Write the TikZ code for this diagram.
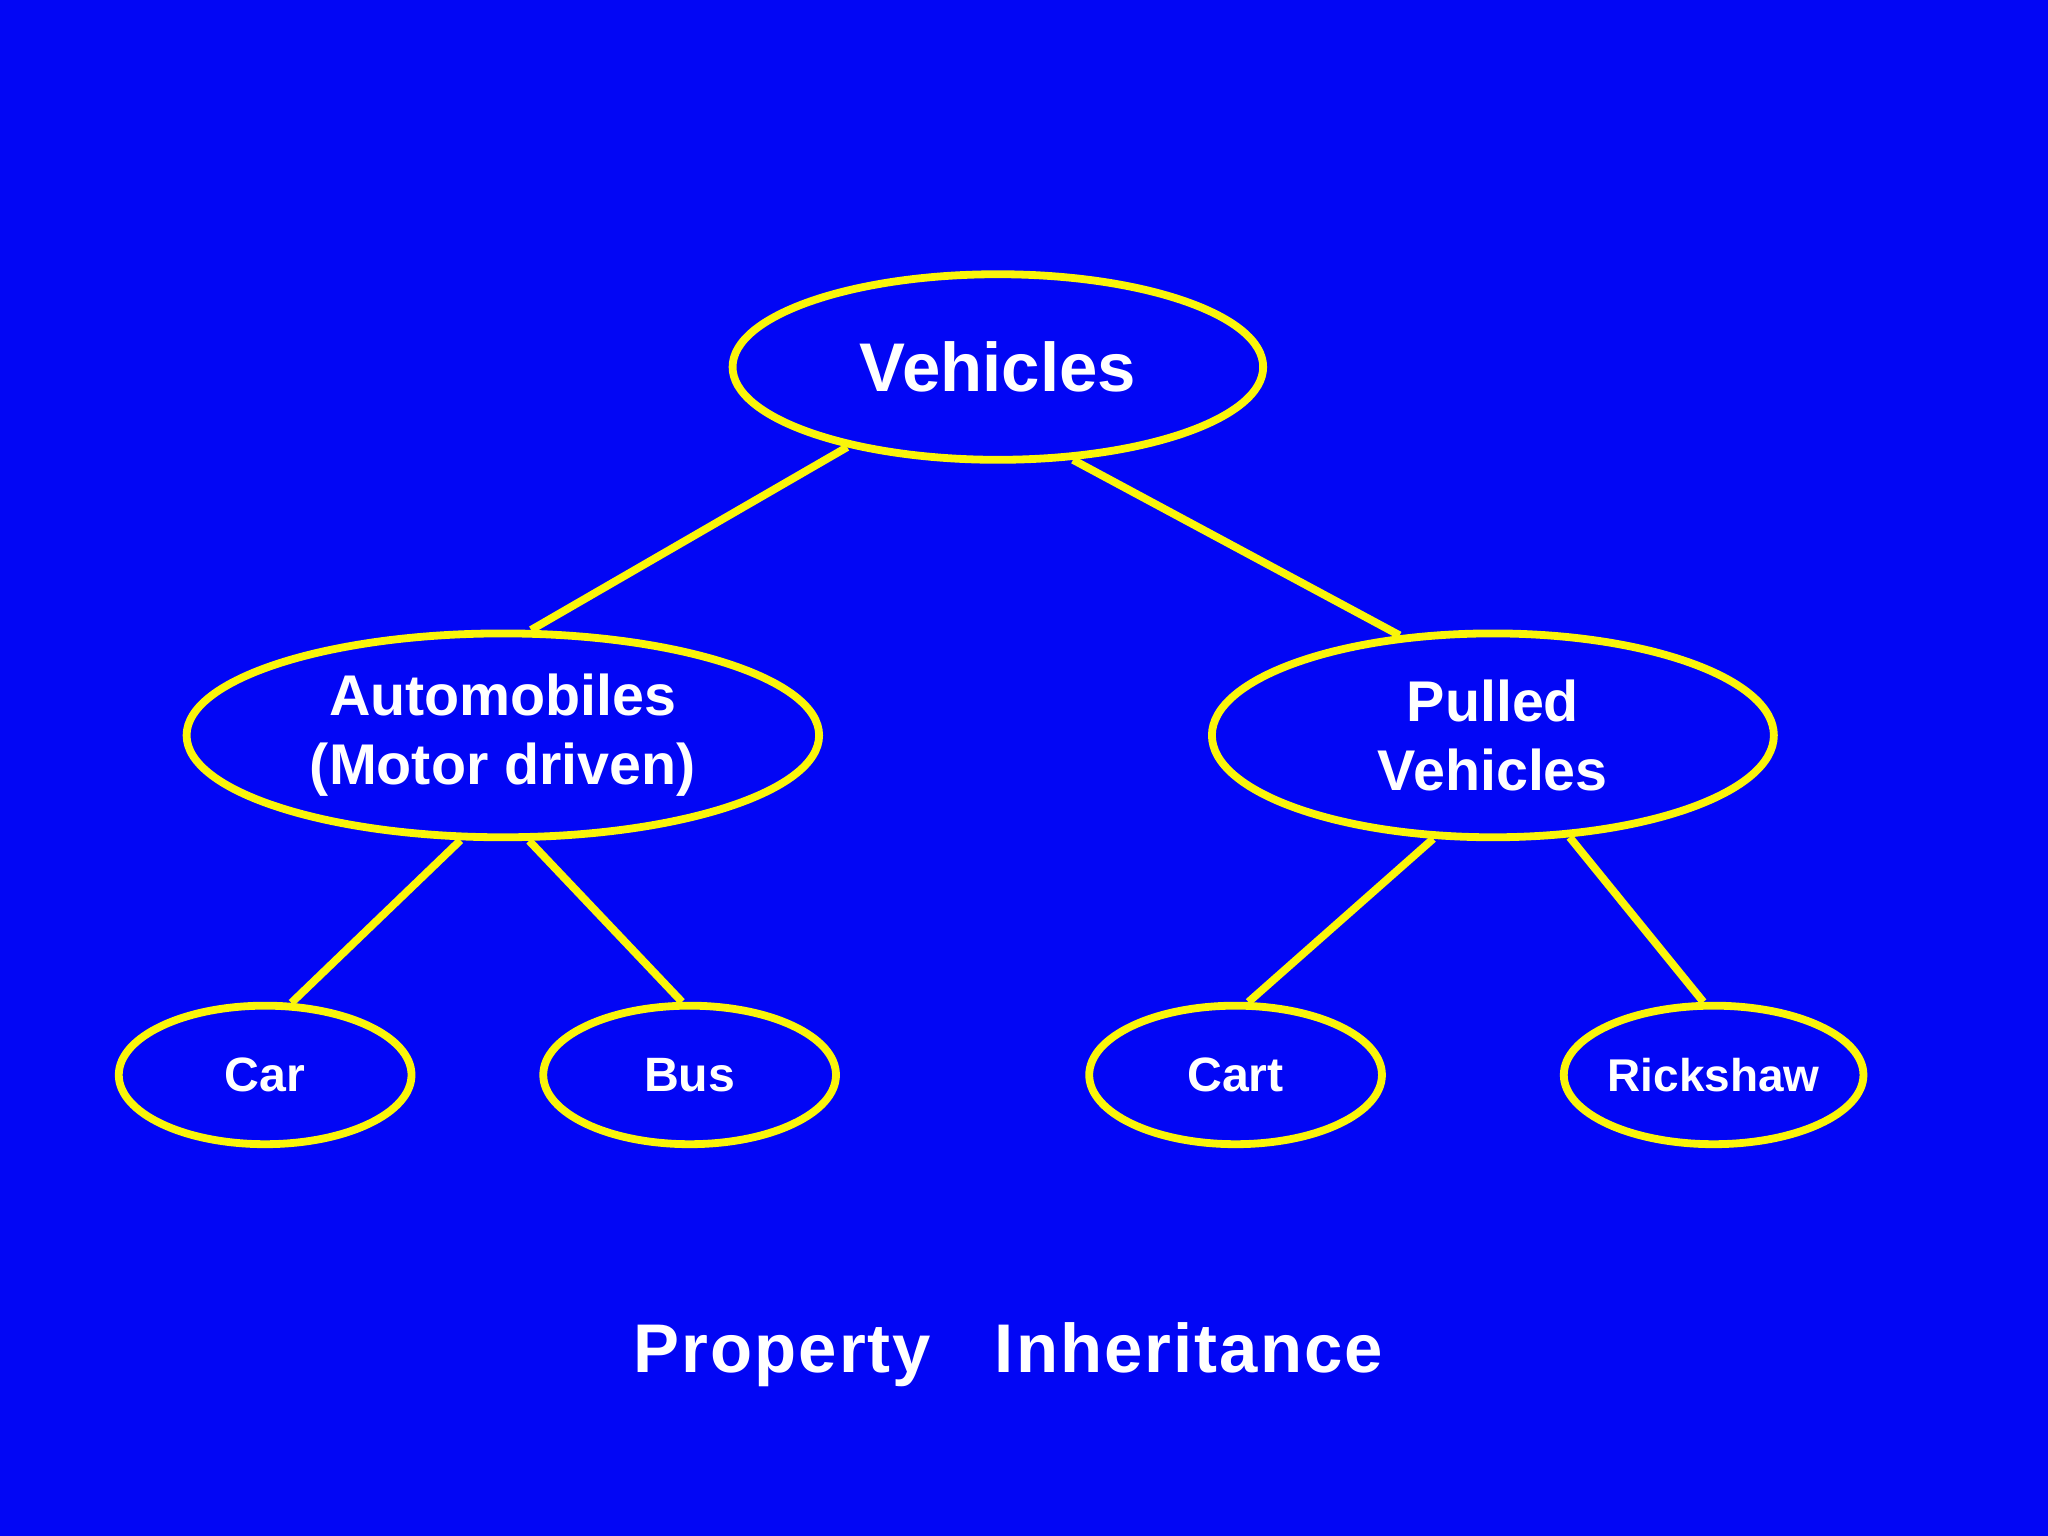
\documentclass[tikz,border=0pt]{standalone}
\usepackage{fontspec}
\setmainfont{Liberation Sans}
\usepackage{tikz}
\usetikzlibrary{shapes.geometric}
\definecolor{bgblue}{RGB}{2,6,245}
\definecolor{lineyellow}{RGB}{250,245,10}
\tikzstyle{class} = [ellipse, draw=lineyellow, line width=1.7pt, fill=bgblue, text=white, font=\bfseries, align=center, inner sep=0pt]
\tikzstyle{link} = [draw=lineyellow, line width=1.7pt]

\begin{document}
\begin{tikzpicture}[x=0.01cm, y=-0.01cm]

% Background
\fill[bgblue] (0,0) rectangle (1568,1176);

% Class ellipses
\node (vehicles) [class, minimum width=4.06cm, minimum height=1.42cm, font=\bfseries\fontsize{15}{18}\selectfont] at (764,281) {Vehicles};
\node (automobiles) [class, minimum width=4.84cm, minimum height=1.56cm, font=\bfseries\fontsize{12.5}{15}\selectfont] at (385,563) {Automobiles\\(Motor driven)};
\node (pulled) [class, minimum width=4.30cm, minimum height=1.56cm, font=\bfseries\fontsize{12.5}{15}\selectfont] at (1143,563) {Pulled\\Vehicles};
\node (car) [class, minimum width=2.24cm, minimum height=1.06cm, font=\bfseries\fontsize{10.5}{13}\selectfont] at (203,823) {Car};
\node (bus) [class, minimum width=2.24cm, minimum height=1.06cm, font=\bfseries\fontsize{10.5}{13}\selectfont] at (528,823) {Bus};
\node (cart) [class, minimum width=2.24cm, minimum height=1.06cm, font=\bfseries\fontsize{10.5}{13}\selectfont] at (946,823) {Cart};
\node (rickshaw) [class, minimum width=2.24cm, minimum height=1.06cm, font=\bfseries\fontsize{10}{12}\selectfont] at (1312,823) {Rickshaw};

% Links
\draw [link] (vehicles.208) -- (automobiles.75);
\draw [link] (vehicles.309) -- (pulled.133);
\draw [link] (automobiles.248) -- (car.70);
\draw [link] (automobiles.284) -- (bus.96);
\draw [link] (pulled.240) -- (cart.80);
\draw [link] (pulled.307) -- (rickshaw.98);

% Caption
\node (caption) [text=white, font=\bfseries\fontsize{15}{18}\selectfont\addfontfeature{LetterSpace=3}] at (772,1037) {Property\ \ \ Inheritance};

\end{tikzpicture}
\end{document}
